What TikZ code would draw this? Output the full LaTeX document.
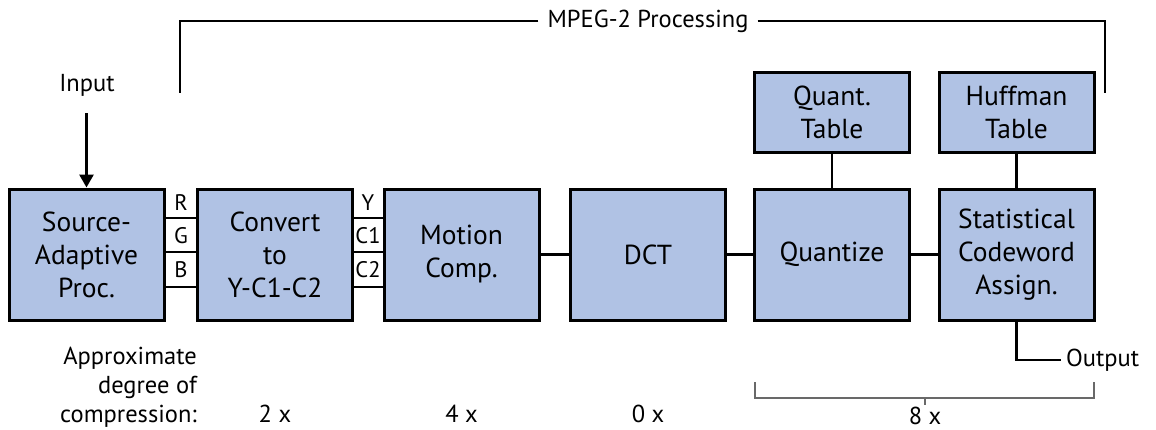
\documentclass[tikz,border=0pt]{standalone}
\usepackage{fontspec}
\setmainfont{PT Sans}
\usetikzlibrary{arrows.meta}
\definecolor{boxblue}{RGB}{176,194,228}
\definecolor{brgray}{RGB}{105,105,105}
\begin{document}
\begin{tikzpicture}[x=1pt,y=-1pt,
  blk/.style={draw, fill=boxblue, line width=3pt, inner sep=0pt, align=center,
    minimum width=155pt, minimum height=131pt, font=\fontsize{27.5}{33}\selectfont},
  tbl/.style={blk, minimum height=80pt},
  wire/.style={line width=2.8pt},
  chan/.style={font=\fontsize{22.5}{24}\selectfont, inner sep=0pt},
  lbl/.style={font=\fontsize{24.5}{29}\selectfont, inner sep=0pt},
  brk/.style={line width=2.5pt},
  gbrk/.style={draw=brgray, line width=1.6pt}]
\useasboundingbox (0,0) rectangle (1156,429);
% main blocks
\node[blk] (src) at (86.5,254.5) {Source-\\Adaptive\\Proc.};
\node[blk] (conv) at (275,254.5) {Convert\\to\\Y-C1-C2};
\node[blk] (mot) at (461.5,254.5) {Motion\\Comp.};
\node[blk] (dct) at (648,254.5) {DCT};
\node[blk] (quant) at (832,254.5) {Quantize};
\node[blk] (stat) at (1016.5,254.5) {Statistical\\Codeword\\Assign.};
\node[tbl] (qt) at (832,112) {Quant.\\Table};
\node[tbl] (hf) at (1016.5,112) {Huffman\\Table};
% RGB channels
\foreach \s in {36.5,2.5,-32.5}{
  \draw[wire] ([yshift=\s pt]src.east) -- ([yshift=\s pt]conv.west);
  \draw[wire] ([yshift=\s pt]conv.east) -- ([yshift=\s pt]mot.west);
}
\node[chan] (r) at (181,203) {R};
\node[chan] (g) at (181,236) {G};
\node[chan] (b) at (181,270) {B};
\node[chan] (y) at (368,203) {Y};
\node[chan] (c1) at (368,236) {C1};
\node[chan] (c2) at (368,270) {C2};
% connections
\draw[wire] (mot.east) -- (dct.west);
\draw[wire] (dct.east) -- (quant.west);
\draw[wire] (quant.east) -- (stat.west);
\draw[wire] (qt.south) -- (quant.north);
\draw[wire] (hf.south) -- (stat.north);
% input
\node[lbl] (in) at (87,85) {Input};
\coordinate (inarr) at (86.5,113);
\draw[wire, -{Triangle[length=13pt,width=14pt]}] (inarr) -- (src.north);
% output
\node[lbl, anchor=west, inner xsep=5pt] (out) at (1061,360) {Output};
\draw[wire] (stat.south) |- (out.west);
% MPEG-2 bracket
\node[lbl, inner sep=9pt] (mpeg) at (648,21) {MPEG-2 Processing};
\coordinate (tl) at (180,93);
\coordinate (tr) at (1105,93);
\draw[brk] (mpeg.west) -| (tl);
\draw[brk] (mpeg.east) -| (tr);
% compression labels
\node[lbl, anchor=base east] (a1) at (197,364) {Approximate};
\node[lbl, anchor=base east] (a2) at (197,393) {degree of};
\node[lbl, anchor=base east] (a3) at (197,422) {compression:};
\node[lbl, anchor=base] (x2) at (275,422) {2 x};
\node[lbl, anchor=base] (x4) at (461.5,422) {4 x};
\node[lbl, anchor=base] (x0) at (648,422) {0 x};
\node[lbl, anchor=base] (x8) at (925,424) {8 x};
% bottom bracket
\coordinate (bl) at (755,382);
\coordinate (bll) at (755,398);
\coordinate (brr) at (1094,398);
\coordinate (br) at (1094,382);
\coordinate (tk1) at (925,398);
\coordinate (tk2) at (925,405);
\draw[gbrk] (bl) -- (bll) -- (brr) -- (br);
\draw[gbrk] (tk1) -- (tk2);
\end{tikzpicture}
\end{document}
